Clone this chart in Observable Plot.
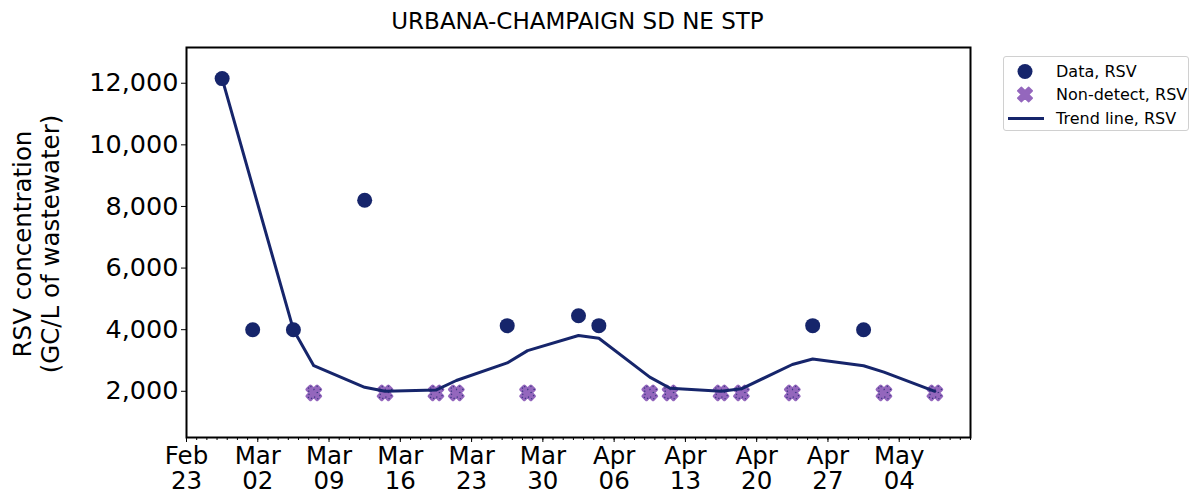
<!DOCTYPE html>
<html><head><meta charset="utf-8">
<script src="https://cdn.jsdelivr.net/npm/d3@7"></script>
<script src="https://cdn.jsdelivr.net/npm/@observablehq/plot@0.6"></script>
<style>
body{margin:0;background:#fff;font-family:"DejaVu Sans",sans-serif;}
#wrap{position:relative;width:1195px;height:495px;overflow:hidden;background:#fff}
#title{position:absolute;left:0;width:1155px;top:6px;text-align:center;font-size:23px;color:#000;line-height:30px}
#ylab{position:absolute;width:320px;height:56px;left:-123px;top:216px;text-align:center;font-size:24.5px;line-height:28px;color:#000;transform:rotate(-90deg);transform-origin:center center}
#legend{position:absolute;left:1003px;top:56px;width:186px;height:75px;border:1px solid #d0d0d0;border-radius:3px;font-size:16px;box-sizing:border-box}
#legend .row{position:absolute;left:0;height:23px;line-height:23px;width:100%}
#legend svg{position:absolute;left:0;top:0}
#legend span{position:absolute;left:52px;top:0;white-space:nowrap}
</style></head><body><div id="wrap">
<div id="title">URBANA-CHAMPAIGN SD NE STP</div>
<div id="ylab">RSV concentration<br>(GC/L of wastewater)</div>
</div>
<script>
// ---- data ----
const dataDates = ["2025-02-26","2025-03-01","2025-03-05","2025-03-12","2025-03-26","2025-04-02","2025-04-04","2025-04-25","2025-04-30"];
const dataValues = [12150, 4000, 4000, 8200, 4130, 4450, 4130, 4130, 4000];
const nonDetectDates = ["2025-03-07","2025-03-14","2025-03-19","2025-03-21","2025-03-28","2025-04-09","2025-04-11","2025-04-16","2025-04-18","2025-04-23","2025-05-02","2025-05-07"];
const nonDetectValues = [1950, 1950, 1950, 1950, 1950, 1950, 1950, 1950, 1950, 1950, 1950, 1950];
const trendDates = ["2025-02-26","2025-03-01","2025-03-05","2025-03-07","2025-03-12","2025-03-14","2025-03-19","2025-03-21","2025-03-26","2025-03-28","2025-04-02","2025-04-04","2025-04-09","2025-04-11","2025-04-16","2025-04-18","2025-04-23","2025-04-25","2025-04-30","2025-05-02","2025-05-07"];
const trendValues = [12150, 8650, 4000, 2830, 2130, 2000, 2040, 2350, 2920, 3320, 3810, 3720, 2460, 2100, 2000, 2080, 2870, 3050, 2830, 2620, 2000];
const yTicks = [2000, 4000, 6000, 8000, 10000, 12000];
const xStart = "2025-02-23", xEnd = "2025-05-11";
const legendLabels = ["Data, RSV", "Non-detect, RSV", "Trend line, RSV"];

const navy = "#16256b", purple = "#9467bd";
const toDate = s => new Date(s + "T12:00:00Z");
const dataRows = dataDates.map((d, i) => ({date: toDate(d), value: dataValues[i]}));
const ndRows = nonDetectDates.map((d, i) => ({date: toDate(d), value: nonDetectValues[i]}));
const trendRows = trendDates.map((d, i) => ({date: toDate(d), value: trendValues[i]}));
const d0 = new Date(xStart + "T00:00:00Z"), d1 = new Date(xEnd + "T00:00:00Z");

const xPts = [[-0.25,-0.5],[0,-0.25],[0.25,-0.5],[0.5,-0.25],[0.25,0],[0.5,0.25],[0.25,0.5],[0,0.25],[-0.25,0.5],[-0.5,0.25],[-0.25,0],[-0.5,-0.25]];
const xFilled = {draw(ctx, size) {
  const s = Math.sqrt(size / Math.PI) * 2;
  ctx.moveTo(xPts[0][0]*s, xPts[0][1]*s);
  for (let i = 1; i < xPts.length; i++) ctx.lineTo(xPts[i][0]*s, xPts[i][1]*s);
  ctx.closePath();
}};
const xPathD = (s) => "M" + xPts.map(p => (p[0]*s).toFixed(2) + "," + (p[1]*s).toFixed(2)).join("L") + "Z";

const fmtX = d => d3.utcFormat("%b")(d) + "\n" + d3.utcFormat("%d")(d);

const chart = Plot.plot({
  width: 1195, height: 495,
  marginLeft: 186, marginRight: 225, marginTop: 47, marginBottom: 58,
  style: {fontFamily: "DejaVu Sans", fontSize: "25.5px", color: "black", background: "transparent", overflow: "visible"},
  x: {type: "utc", domain: [d0, d1]},
  y: {domain: [500, 13160]},
  marks: [
    Plot.axisX({ticks: d3.utcDay.range(d0, d3.utcDay.offset(d1, 1)), tickSize: 3, tickFormat: () => "", label: null}),
    Plot.axisX({ticks: d3.utcWeek.range(d0, d1), tickSize: 5, tickPadding: 3, tickFormat: fmtX, fontSize: 24.5, lineHeight: 1.04, label: null}),
    Plot.axisY({ticks: yTicks, tickSize: 5, tickPadding: 3, tickFormat: d3.format(","), label: null}),
    Plot.dot(ndRows, {x: "date", y: "value", symbol: xFilled, r: 6.6, fill: purple, stroke: purple, strokeWidth: 3.5, strokeLinejoin: "round"}),
    Plot.dot(ndRows, {x: "date", y: "value", symbol: xFilled, r: 6.6, fill: "none", stroke: navy, strokeWidth: 1.2, strokeDasharray: "1.2 3.2", strokeOpacity: 0.75}),
    Plot.line(trendRows, {x: "date", y: "value", stroke: navy, strokeWidth: 3}),
    Plot.dot(dataRows, {x: "date", y: "value", r: 7.5, fill: navy, stroke: null}),
    Plot.frame({stroke: "black", strokeWidth: 2})
  ]
});
chart.style.position = "absolute";
chart.style.left = "0px";
chart.style.top = "0px";
const wrap = document.getElementById("wrap");
wrap.insertBefore(chart, wrap.firstChild);

// legend
const lg = document.createElement("div");
lg.id = "legend";
const syms = [
  `<circle cx="21" cy="11.5" r="7.5" fill="${navy}"/>`,
  `<path transform="translate(21,11.5)" d="${xPathD(14.5)}" fill="${purple}" stroke="${purple}" stroke-width="1.5" stroke-linejoin="round"/>`,
  `<line x1="4" x2="40" y1="11.5" y2="11.5" stroke="${navy}" stroke-width="3"/>`
];
legendLabels.forEach((t, i) => {
  const r = document.createElement("div");
  r.className = "row";
  r.style.top = (3 + i * 23.3) + "px";
  r.innerHTML = `<svg width="46" height="23">${syms[i]}</svg><span>${t}</span>`;
  lg.appendChild(r);
});
wrap.appendChild(lg);
</script>
</body></html>
